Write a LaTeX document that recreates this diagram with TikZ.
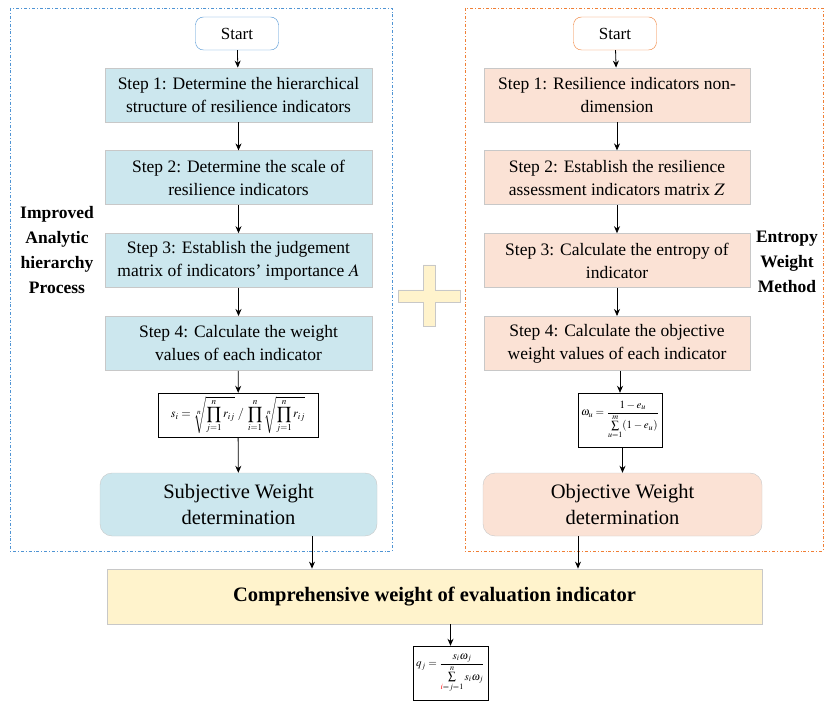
\documentclass[tikz,border=0pt]{standalone}
\usepackage{amsmath}
\usepackage{graphicx}
\usepackage{mathptmx}
\usepackage{fontspec}
\setmainfont{Liberation Serif}
\usetikzlibrary{arrows.meta,positioning}

\definecolor{ahpfill}{HTML}{CCE7EE}
\definecolor{ewmfill}{HTML}{FBE2D5}
\definecolor{combfill}{HTML}{FFF3CC}
\definecolor{ahpline}{HTML}{4F94D4}
\definecolor{ewmline}{HTML}{F07F35}
\definecolor{boxline}{HTML}{C8C8C8}

\begin{document}
\begin{tikzpicture}[x=1pt,y=-1pt,>={Stealth[length=7pt,width=6pt]},node distance=28pt,
  startbox/.style={draw,rounded corners=8pt,fill=white,minimum width=83pt,minimum height=33pt,font=\fontsize{17}{20}\selectfont},
  stepbox/.style={draw=boxline,thick,minimum height=54pt,align=center,inner sep=2pt,font=\fontsize{17.5}{23}\selectfont},
  weightbox/.style={draw=boxline,rounded corners=12pt,minimum height=63pt,align=center,font=\fontsize{20.5}{26}\selectfont},
  formbox/.style={draw,inner sep=1pt},
  sidelabel/.style={align=center,font=\fontsize{17.5}{25}\selectfont\bfseries},
  frame/.style={line width=0.8pt,dash dot}]
  \useasboundingbox (0,0) rectangle (825,703);

  % dashed frames
  \draw[frame,ahpline] (10,8) rectangle (392,551);
  \draw[frame,ewmline] (465,8) rectangle (823,551);

  % improved AHP
  \node[startbox,draw=ahpline] (ahp0) at (237,33.5) {Start};
  \node[stepbox,fill=ahpfill,minimum width=267pt] (ahp1) at (238.5,95) {Step 1: Determine the hierarchical\\structure of resilience indicators};
  \node[stepbox,fill=ahpfill,minimum width=267pt] (ahp2) [below=of ahp1] {Step 2: Determine the scale of\\resilience indicators};
  \node[stepbox,fill=ahpfill,minimum width=267pt] (ahp3) [below=of ahp2] {Step 3: Establish the judgement\\matrix of indicators' importance $A$};
  \node[stepbox,fill=ahpfill,minimum width=267pt] (ahp4) [below=of ahp3] {Step 4: Calculate the weight\\values of each indicator};
  \node[formbox,minimum width=160pt,minimum height=44pt] (ahpf) at (238,415)
    {\scalebox{1.22}{$\displaystyle s_i=\sqrt[n]{\prod_{j=1}^{n}r_{ij}}\;/\;\prod_{i=1}^{n}\sqrt[n]{\prod_{j=1}^{n}r_{ij}}$}};
  \node[weightbox,fill=ahpfill,minimum width=277pt] (subj) at (238.5,504.5) {Subjective Weight\\determination};
  \node[sidelabel] (ahpname) at (57,250) {Improved\\Analytic\\hierarchy\\Process};

  % entropy weight method
  \node[startbox,draw=ewmline] (ewm0) at (615,33.5) {Start};
  \node[stepbox,fill=ewmfill,minimum width=266pt] (ewm1) at (617,95) {Step 1: Resilience indicators non-\\dimension};
  \node[stepbox,fill=ewmfill,minimum width=266pt] (ewm2) [below=of ewm1] {Step 2: Establish the resilience\\assessment indicators matrix $Z$};
  \node[stepbox,fill=ewmfill,minimum width=266pt] (ewm3) [below=of ewm2] {Step 3: Calculate the entropy of\\indicator};
  \node[stepbox,fill=ewmfill,minimum width=266pt] (ewm4) [below=of ewm3] {Step 4: Calculate the objective\\weight values of each indicator};
  \node[formbox,minimum width=84pt,minimum height=54pt] (ewmf) at (620,420)
    {\scalebox{1.1}{$\displaystyle \omega_u=\frac{1-e_u}{\sum\limits_{u=1}^{m}(1-e_u)}$}};
  \node[weightbox,fill=ewmfill,minimum width=279pt] (obj) at (622.5,504.5) {Objective Weight\\determination};
  \node[sidelabel] (ewmname) at (787,262) {Entropy\\Weight\\Method};

  % plus sign
  \fill[combfill,draw=boxline,thick] (423,265) -- (435,265) -- (435,290) -- (460,290) -- (460,302)
    -- (435,302) -- (435,326) -- (423,326) -- (423,302) -- (398,302) -- (398,290) -- (423,290) -- cycle;

  % comprehensive weight
  \node[draw=boxline,thick,fill=combfill,minimum width=655pt,minimum height=55pt,font=\fontsize{20.5}{24}\selectfont\bfseries] (comp) at (434.5,596.5)
    {Comprehensive weight of evaluation indicator};
  \node[formbox,minimum width=75pt,minimum height=54pt] (compf) at (450.5,673)
    {\scalebox{1.1}{$\displaystyle q_j=\frac{s_i\omega_j}{\sum\limits_{\textcolor{red}{i}=j=1}^{n}s_i\omega_j}$}};

  \path[->,thick]
  (ahp0) edge (ahp1)
  (ahp1) edge (ahp2)
  (ahp2) edge (ahp3)
  (ahp3) edge (ahp4)
  (ahp4) edge (ahpf)
  (ahpf) edge (subj)
  (ewm0) edge (ewm1)
  (ewm1) edge (ewm2)
  (ewm2) edge (ewm3)
  (ewm3) edge (ewm4)
  (ewm4.south -| ewmf) edge (ewmf)
  (ewmf.south -| obj) edge (obj)
  ([xshift=73.5pt]subj.south) edge ([xshift=73.5pt]subj.south |- comp.north)
  ([xshift=-44.5pt]obj.south) edge ([xshift=-44.5pt]obj.south |- comp.north)
  (comp.south -| compf) edge (compf)
  ;
\end{tikzpicture}
\end{document}
